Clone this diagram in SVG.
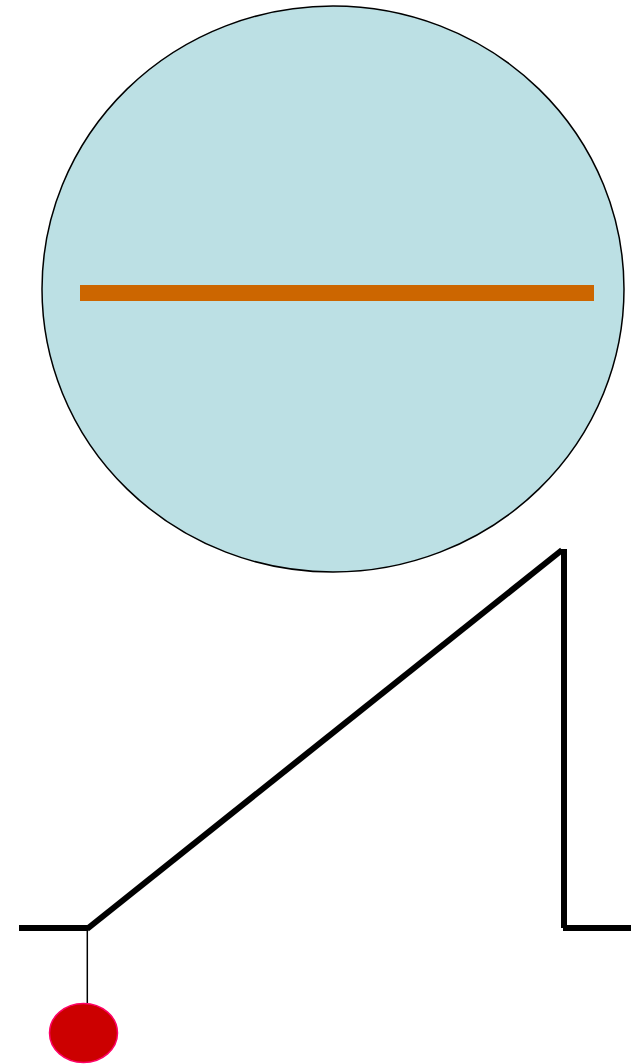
<svg xmlns="http://www.w3.org/2000/svg" width="637" height="1064" viewBox="0 0 637 1064">
<style>
.thick{stroke:#000;stroke-width:6;fill:none}
.thin{stroke:#000;stroke-width:1.5;fill:none}
</style>
<rect width="637" height="1064" fill="#fff"/>
<g id="sphere">
<ellipse cx="333" cy="289" rx="291" ry="283" fill="#bce0e4" stroke="#000" stroke-width="1.5"/>
</g>
<g id="bar">
<rect x="80" y="285" width="514" height="16" fill="#cc6600"/>
</g>
<g id="connectors">
<line class="thick" x1="19" y1="928" x2="88" y2="928"/>
<line class="thick" x1="87" y1="929" x2="562" y2="550"/>
<line class="thick" x1="564" y1="549" x2="564" y2="928"/>
<line class="thick" x1="563" y1="928" x2="631" y2="928"/>
<line class="thin" x1="87.3" y1="928" x2="87.3" y2="1003"/>
</g>
<g id="bob">
<ellipse cx="83.5" cy="1033" rx="34" ry="29.5" fill="#cc0000" stroke="#ff0066" stroke-width="1.5"/>
</g>
</svg>
